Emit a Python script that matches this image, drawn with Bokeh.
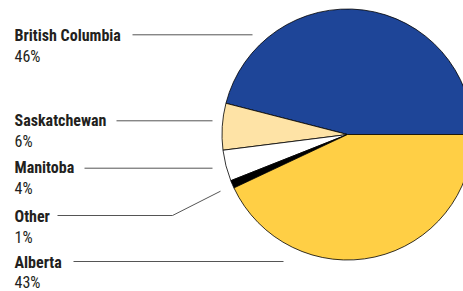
from bokeh.plotting import figure
from bokeh.models import Range1d
from bokeh.core.properties import value
from bokeh.embed import file_html
from bokeh.resources import INLINE
import math

categories = ["British Columbia", "Saskatchewan", "Manitoba", "Other", "Alberta"]
shares = [46, 6, 4, 1, 43]
colors = ["#1e4598", "#fee3a6", "#ffffff", "#000000", "#ffcf45"]

W, H = 463, 291
p = figure(width=W, height=H, output_backend="svg", toolbar_location=None,
           x_range=Range1d(0, W), y_range=Range1d(0, H), min_border=0)
p.axis.visible = False
p.grid.visible = False
p.outline_line_color = None

def Y(sy):
    return H - sy

cx, cy, r = 347, Y(134), 125.5
start = 0.0
for cat, v, c in zip(categories, shares, colors):
    a0 = start
    a1 = start + v / 100 * 2 * math.pi
    p.wedge(x=[cx], y=[cy], radius=r, radius_units="screen", start_angle=a0, end_angle=a1,
            fill_color=c, line_color="#000000", line_width=0.8)
    start = a1

label_y = [35, 120, 167, 215.5, 262]
pct_gaps = [21, 21, 21, 21, 20]
font = value("Roboto Condensed")
for cat, v, ly, g in zip(categories, shares, label_y, pct_gaps):
    p.text(x=[14], y=[Y(ly)], text=[cat], text_font=font, text_font_style="bold",
           text_font_size="16px", text_baseline="middle", text_color="#231f20")
    p.text(x=[14], y=[Y(ly + g)], text=[f"{v}%"], text_font=font,
           text_font_size="16px", text_baseline="middle", text_color="#231f20")

lc = "#555555"
p.line([132, 252], [Y(34.3), Y(34.3)], line_color=lc, line_width=1)
p.line([116, 212], [Y(120.3), Y(120.3)], line_color=lc, line_width=1)
p.line([84, 212], [Y(167.7), Y(167.7)], line_color=lc, line_width=1)
p.line([57, 172, 220], [Y(215), Y(215), Y(190.7)], line_color=lc, line_width=1)
p.line([73, 283], [Y(261), Y(261)], line_color=lc, line_width=1)

open("out.html", "w").write(file_html(p, INLINE))
